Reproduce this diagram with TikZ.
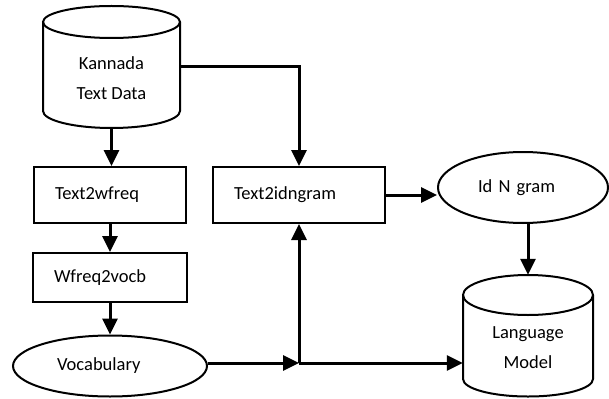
\documentclass[tikz,border=0pt]{standalone}
\usepackage{fontspec}
\setmainfont{Carlito}
\usetikzlibrary{arrows.meta,shapes.geometric}
\begin{document}
\begin{tikzpicture}[x=1pt,y=-1pt,
  shape line/.style={line width=2pt},
  arr/.style={line width=3pt,-{Triangle[width=15pt,length=16pt]}},
  lbl/.style={font=\fontsize{18.5}{30}\selectfont},
  stepbox/.style={draw,shape line,rectangle,align=left,inner xsep=21pt,inner ysep=0pt,lbl},
  oval/.style={draw,shape line,ellipse,align=left,inner sep=0pt,lbl},
  cylanchor/.style={draw=none,rectangle,inner sep=0pt}]
\useasboundingbox (0,0) rectangle (609,398);

% Kannada Text Data cylinder
\draw[shape line] (43,22) -- (43,111) arc[start angle=180,end angle=0,x radius=68.5,y radius=17] -- (180,22);
\draw[shape line] (111.5,22) ellipse [x radius=68.5,y radius=16];
\node[cylanchor,minimum width=137pt,minimum height=122pt,
      label={[lbl,align=center,yshift=-11pt]center:Kannada\\Text Data}] (kan) at (111.5,67) {};

% Language Model cylinder
\draw[shape line] (463,295) -- (463,379) arc[start angle=180,end angle=0,x radius=65,y radius=17.5] -- (593,295);
\draw[shape line] (528,295) ellipse [x radius=65,y radius=20];
\node[cylanchor,minimum width=130pt,minimum height=122pt,
      label={[lbl,align=center,yshift=-12pt]center:Language\\Model}] (lm) at (528,336) {};

% process boxes
\node[stepbox,text width=110pt,minimum height=56pt] (t2w) at (110,195) {Text2wfreq};
\node[stepbox,text width=112pt,minimum height=49pt] (w2v) at (110,277.5) {Wfreq2vocb};
\node[stepbox,text width=130pt,minimum height=56pt] (t2i) at (299,195) {Text2idngram};

% ellipses
\node[oval,text width=106pt,minimum width=194pt,minimum height=61pt] (voc) at (110,366) {Vocabulary};
\node[oval,text width=90pt,minimum width=170pt,minimum height=71pt] (idn) at (523,187.5) {Id N gram};

% connectors
\coordinate (j) at (t2i.south |- 0,363);
\draw[arr] (kan.south) -- (kan.south |- t2w.north);
\draw[arr] (kan.east) -| (t2i.north);
\draw[arr] (t2w.south) -- (w2v.north);
\draw[arr] (w2v.south) -- (voc.north);
\draw[arr] (voc.east |- j) -- (j);
\draw[arr] (j) -- (t2i.south);
\draw[arr] (j) -- (lm.west |- j);
\draw[arr] (t2i.east) -- (idn.west |- t2i.east);
\draw[arr] (lm.north |- idn.south) -- (lm.north);
\end{tikzpicture}
\end{document}
